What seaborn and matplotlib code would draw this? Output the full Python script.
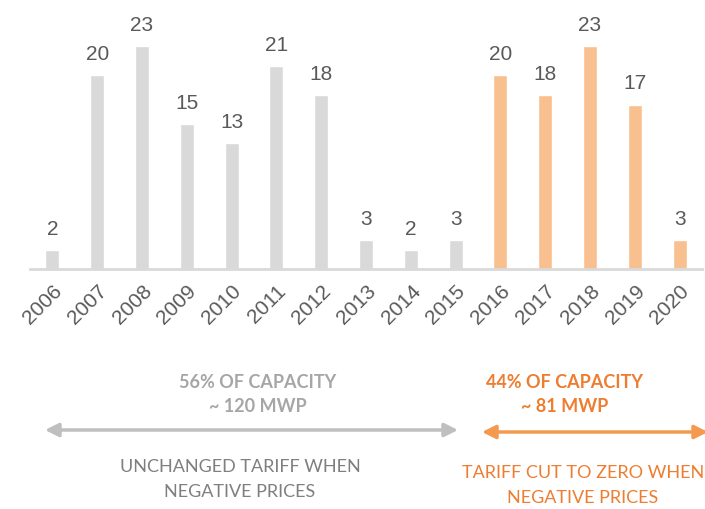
import matplotlib
matplotlib.use("Agg")
import matplotlib.pyplot as plt
import pandas as pd
import seaborn as sns

years = [str(y) for y in range(2006, 2021)]
values = [2, 20, 23, 15, 13, 21, 18, 3, 2, 3, 20, 18, 23, 17, 3]
period = ["before"] * 10 + ["after"] * 5

GREY_BAR = "#D9D9D9"
ORANGE_BAR = "#F9C08F"
ORANGE_TXT = "#ED7D31"


def main():
    df = pd.DataFrame({"year": years, "value": values, "period": period})

    sns.set_style("white")
    plt.rcParams["font.family"] = ["Liberation Sans", "DejaVu Sans"]

    fig = plt.figure(figsize=(7.05, 5.09), dpi=100)
    ax = fig.add_axes([0.0426, 0.4715, 0.9531, 0.519])

    sns.barplot(data=df, x="year", y="value", hue="period",
                palette={"before": GREY_BAR, "after": ORANGE_BAR},
                dodge=False, width=0.31, saturation=1, legend=False, ax=ax)

    for cont in ax.containers:
        ax.bar_label(cont, padding=8, fontsize=15, color="#595959")

    ax.set_ylim(0, 27.3)
    ax.set_xlim(-0.5, 14.5)
    ax.set_xlabel("")
    ax.set_ylabel("")
    ax.set_yticks([])
    for side in ["left", "right", "top"]:
        ax.spines[side].set_visible(False)
    ax.spines["bottom"].set_color(GREY_BAR)
    ax.spines["bottom"].set_linewidth(2)
    ax.tick_params(axis="x", length=0, pad=9, labelsize=15, labelcolor="#595959")
    for lbl in ax.get_xticklabels():
        lbl.set_rotation(45)
        lbl.set_ha("right")
        lbl.set_rotation_mode("anchor")

    W, H = 705, 509

    def fx(x):
        return x / W

    def fy(y):
        return 1 - y / H

    lato = ["Lato", "DejaVu Sans"]
    fs = 13
    fig.text(fx(258), fy(383), "56% OF CAPACITY", ha="center", va="center",
             fontsize=fs, fontweight="bold", color="#A6A6A6", family=lato)
    fig.text(fx(258), fy(406), "~ 120 MWP", ha="center", va="center",
             fontsize=fs, fontweight="bold", color="#A6A6A6", family=lato)
    fig.text(fx(240), fy(467), "UNCHANGED TARIFF WHEN", ha="center", va="center",
             fontsize=fs, color="#7F7F7F", family=lato)
    fig.text(fx(240), fy(492), "NEGATIVE PRICES", ha="center", va="center",
             fontsize=fs, color="#7F7F7F", family=lato)

    fig.text(fx(565), fy(382), "44% OF CAPACITY", ha="center", va="center",
             fontsize=fs, fontweight="bold", color=ORANGE_TXT, family=lato)
    fig.text(fx(565), fy(406), "~ 81 MWP", ha="center", va="center",
             fontsize=fs, fontweight="bold", color=ORANGE_TXT, family=lato)
    fig.text(fx(583), fy(473), "TARIFF CUT TO ZERO WHEN", ha="center", va="center",
             fontsize=fs, color=ORANGE_TXT, family=lato)
    fig.text(fx(583), fy(498), "NEGATIVE PRICES", ha="center", va="center",
             fontsize=fs, color=ORANGE_TXT, family=lato)

    fig.add_artist(matplotlib.patches.FancyArrowPatch(
        (fx(45), fy(430)), (fx(458), fy(430)), transform=fig.transFigure,
        arrowstyle="<|-|>,head_length=8,head_width=4", color="#BFBFBF",
        linewidth=2.5, shrinkA=0, shrinkB=0))
    fig.add_artist(matplotlib.patches.FancyArrowPatch(
        (fx(482), fy(432)), (fx(708), fy(432)), transform=fig.transFigure,
        arrowstyle="<|-|>,head_length=8,head_width=4", color="#F39A50",
        linewidth=2.5, shrinkA=0, shrinkB=0))

    fig.savefig("out.png", dpi=100)


if __name__ == "__main__":
    main()
